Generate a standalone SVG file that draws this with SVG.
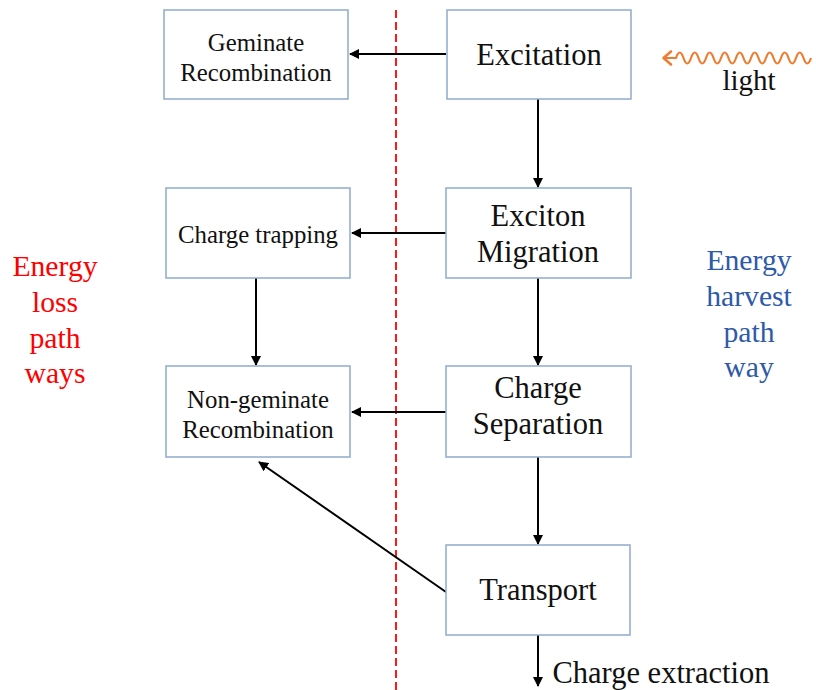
<svg xmlns="http://www.w3.org/2000/svg" width="816" height="690" viewBox="0 0 816 690">
<style>
.box{fill:#fff;stroke:#8FAACB;stroke-width:1.5}
.t{font-family:"Liberation Serif","Times New Roman",serif;fill:#111;text-anchor:middle}
.s{font-size:24.8px}
.b{font-size:30.5px}
.c{stroke:#000;stroke-width:2;fill:none;marker-end:url(#ah)}
.side{font-family:"Liberation Serif","Times New Roman",serif;font-size:29.7px;text-anchor:middle}
</style>
<defs>
<marker id="ah" viewBox="0 0 10 10" refX="9" refY="5" markerWidth="5" markerHeight="5" orient="auto" markerUnits="strokeWidth">
<path d="M0,0 L10,5 L0,10 z" fill="#000"/>
</marker>
</defs>
<rect width="816" height="690" fill="#fff"/>
<line x1="396" y1="10" x2="396" y2="690" stroke="#FF1A1A" stroke-width="2" stroke-dasharray="8,4"/>
<g id="connectors">
<line class="c" x1="446" y1="54" x2="350" y2="54"/>
<line class="c" x1="446" y1="233" x2="352" y2="233"/>
<line class="c" x1="446" y1="412" x2="352" y2="412"/>
<line class="c" x1="538" y1="99" x2="538" y2="187"/>
<line class="c" x1="538" y1="278" x2="538" y2="365"/>
<line class="c" x1="538" y1="457" x2="538" y2="544"/>
<line class="c" x1="538" y1="635" x2="538" y2="686"/>
<line class="c" x1="256" y1="278" x2="256" y2="365"/>
<line class="c" x1="446" y1="592" x2="259" y2="462"/>
</g>
<g id="geminate"><rect class="box" x="164" y="10" width="184" height="89"/>
<text class="t s" x="256" y="51">Geminate</text><text class="t s" x="256" y="81">Recombination</text></g>
<g id="excitation"><rect class="box" x="447" y="10" width="184" height="89"/>
<text class="t b" x="539" y="65">Excitation</text></g>
<g id="trapping"><rect class="box" x="166" y="188" width="184" height="90"/>
<text class="t s" x="258" y="243">Charge trapping</text></g>
<g id="migration"><rect class="box" x="446" y="188" width="185" height="90"/>
<text class="t b" x="538" y="226">Exciton</text><text class="t b" x="538" y="262">Migration</text></g>
<g id="nongeminate"><rect class="box" x="166" y="366" width="184" height="91"/>
<text class="t s" x="258" y="408">Non-geminate</text><text class="t s" x="258" y="438">Recombination</text></g>
<g id="separation"><rect class="box" x="446" y="366" width="185" height="91"/>
<text class="t b" x="538" y="398">Charge</text><text class="t b" x="538" y="434">Separation</text></g>
<g id="transport"><rect class="box" x="446" y="545" width="184" height="90"/>
<text class="t b" x="538" y="600">Transport</text></g>
<g id="extraction"><text class="t b" x="661" y="683">Charge extraction</text></g>
<g id="light">
<path d="M663,58 L676,58 q3.75,-11 7.5,0 t7.5,0 t7.5,0 t7.5,0 t7.5,0 t7.5,0 t7.5,0 t7.5,0 t7.5,0 t7.5,0 t7.5,0 t7.5,0 t7.5,0 t7.5,0 t7.5,0 t7.5,0 t7.5,0 t7.5,0" fill="none" stroke="#ED7D31" stroke-width="2.2"/>
<path d="M671,51.5 L663.5,58 L671,64.5" fill="none" stroke="#ED7D31" stroke-width="2.6" stroke-linecap="round" stroke-linejoin="round"/>
<text class="t" style="font-size:29px" x="749" y="90">light</text>
</g>
<g id="loss" class="side" fill="#FF0000">
<text x="55" y="276">Energy</text><text x="55" y="312">loss</text><text x="55" y="348">path</text><text x="55" y="383">ways</text>
</g>
<g id="harvest" class="side" fill="#2E5AA8">
<text x="749" y="270">Energy</text><text x="749" y="306">harvest</text><text x="749" y="342">path</text><text x="749" y="377">way</text>
</g>
</svg>
